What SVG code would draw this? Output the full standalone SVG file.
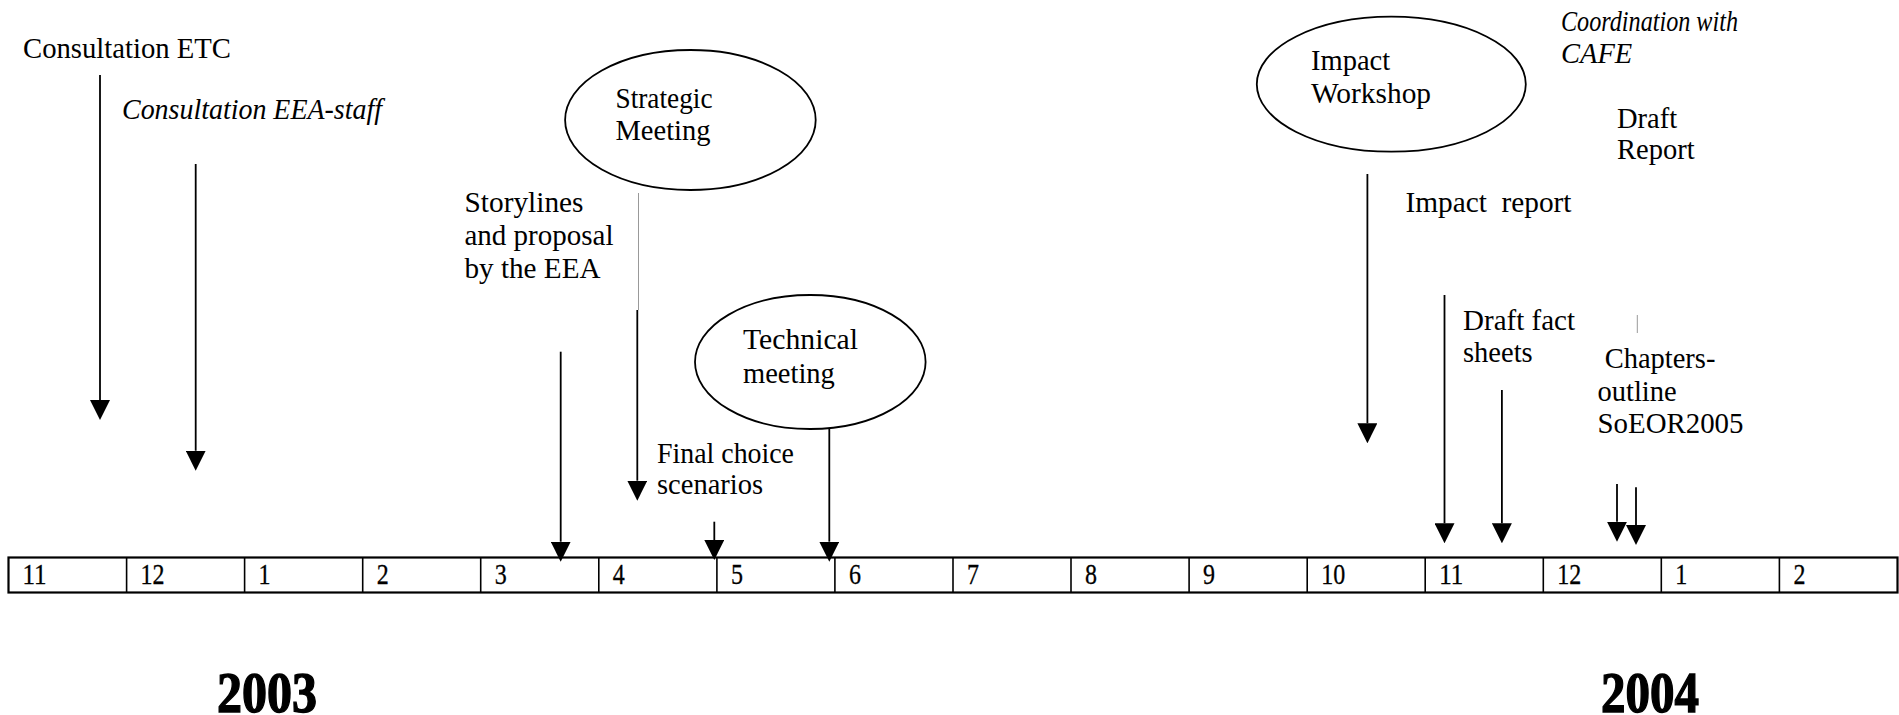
<svg xmlns="http://www.w3.org/2000/svg" width="1899" height="715" viewBox="0 0 1899 715">
<style>
.t{font-family:"Liberation Serif","Times New Roman",serif;font-size:28.5px;fill:#000}
.i{font-style:italic}
.m{font-family:"Liberation Serif","Times New Roman",serif;font-size:29px;fill:#000;stroke:#000;stroke-width:0.3}
.y{font-family:"Liberation Serif","Times New Roman",serif;font-size:58px;font-weight:bold;fill:#000;stroke:#000;stroke-width:1.4}
.el{fill:#fff;stroke:#000;stroke-width:1.8}
.ar{stroke:#000;stroke-width:1.8;fill:none;marker-end:url(#ah)}
.thin{stroke:#999;stroke-width:1;fill:none}
.box{fill:#fff;stroke:#000;stroke-width:2.2}
.div{stroke:#000;stroke-width:1.6}
</style>
<defs>
<marker id="ah" markerUnits="userSpaceOnUse" markerWidth="20" markerHeight="20" refX="0" refY="10" orient="auto">
<path d="M0,0 L20,10 L0,20 z" fill="#000"/>
</marker>
</defs>
<rect width="1899" height="715" fill="#fff"/>

<g id="timeline">
<rect class="box" x="8.5" y="557.5" width="1889" height="35"/>
<g class="div">
<line x1="126.6" y1="557.5" x2="126.6" y2="592.5"/>
<line x1="244.6" y1="557.5" x2="244.6" y2="592.5"/>
<line x1="362.7" y1="557.5" x2="362.7" y2="592.5"/>
<line x1="480.7" y1="557.5" x2="480.7" y2="592.5"/>
<line x1="598.8" y1="557.5" x2="598.8" y2="592.5"/>
<line x1="716.9" y1="557.5" x2="716.9" y2="592.5"/>
<line x1="834.9" y1="557.5" x2="834.9" y2="592.5"/>
<line x1="953" y1="557.5" x2="953" y2="592.5"/>
<line x1="1071" y1="557.5" x2="1071" y2="592.5"/>
<line x1="1189.1" y1="557.5" x2="1189.1" y2="592.5"/>
<line x1="1307.2" y1="557.5" x2="1307.2" y2="592.5"/>
<line x1="1425.2" y1="557.5" x2="1425.2" y2="592.5"/>
<line x1="1543.3" y1="557.5" x2="1543.3" y2="592.5"/>
<line x1="1661.3" y1="557.5" x2="1661.3" y2="592.5"/>
<line x1="1779.4" y1="557.5" x2="1779.4" y2="592.5"/>
</g>
<text class="m" x="22.5" y="584" textLength="24" lengthAdjust="spacingAndGlyphs">11</text>
<text class="m" x="140.6" y="584" textLength="24" lengthAdjust="spacingAndGlyphs">12</text>
<text class="m" x="258.6" y="584" textLength="12" lengthAdjust="spacingAndGlyphs">1</text>
<text class="m" x="376.7" y="584" textLength="12" lengthAdjust="spacingAndGlyphs">2</text>
<text class="m" x="494.7" y="584" textLength="12" lengthAdjust="spacingAndGlyphs">3</text>
<text class="m" x="612.8" y="584" textLength="12" lengthAdjust="spacingAndGlyphs">4</text>
<text class="m" x="730.9" y="584" textLength="12" lengthAdjust="spacingAndGlyphs">5</text>
<text class="m" x="848.9" y="584" textLength="12" lengthAdjust="spacingAndGlyphs">6</text>
<text class="m" x="967" y="584" textLength="12" lengthAdjust="spacingAndGlyphs">7</text>
<text class="m" x="1085" y="584" textLength="12" lengthAdjust="spacingAndGlyphs">8</text>
<text class="m" x="1203.1" y="584" textLength="12" lengthAdjust="spacingAndGlyphs">9</text>
<text class="m" x="1321.2" y="584" textLength="24" lengthAdjust="spacingAndGlyphs">10</text>
<text class="m" x="1439.2" y="584" textLength="24" lengthAdjust="spacingAndGlyphs">11</text>
<text class="m" x="1557.3" y="584" textLength="24" lengthAdjust="spacingAndGlyphs">12</text>
<text class="m" x="1675.3" y="584" textLength="12" lengthAdjust="spacingAndGlyphs">1</text>
<text class="m" x="1793.4" y="584" textLength="12" lengthAdjust="spacingAndGlyphs">2</text>
</g>

<g id="years">
<text class="y" x="217" y="712" textLength="100" lengthAdjust="spacingAndGlyphs">2003</text>
<text class="y" x="1601" y="712" textLength="98" lengthAdjust="spacingAndGlyphs">2004</text>
</g>

<g id="connectors">
<line class="ar" x1="100" y1="75" x2="100" y2="400"/>
<line class="ar" x1="195.7" y1="164" x2="195.7" y2="450.7"/>
<line class="ar" x1="560.7" y1="351.7" x2="560.7" y2="541.7"/>
<line class="thin" x1="638.5" y1="193" x2="638.5" y2="310"/>
<line class="ar" x1="637.3" y1="310" x2="637.3" y2="480.7"/>
<line class="ar" x1="714.3" y1="521.7" x2="714.3" y2="540"/>
<line class="ar" x1="829.3" y1="429" x2="829.3" y2="541.7"/>
<line class="ar" x1="1367.4" y1="174" x2="1367.4" y2="423.3"/>
<line class="ar" x1="1444.5" y1="295" x2="1444.5" y2="523.3"/>
<line class="ar" x1="1501.9" y1="390" x2="1501.9" y2="523.3"/>
<line class="ar" x1="1617" y1="484" x2="1617" y2="521.7"/>
<line class="ar" x1="1636" y1="487.3" x2="1636" y2="525"/>
<line class="thin" x1="1637.3" y1="315" x2="1637.3" y2="333" stroke="#bbb"/>
</g>

<g id="consultation-etc">
<text class="t" x="23" y="57.7" textLength="208" lengthAdjust="spacingAndGlyphs">Consultation ETC</text>
</g>
<g id="consultation-eea">
<text class="t i" x="122" y="119.3" textLength="260" lengthAdjust="spacingAndGlyphs">Consultation EEA-staff</text>
</g>
<g id="strategic-meeting">
<ellipse class="el" cx="690.4" cy="120" rx="125.3" ry="70"/>
<text class="t" x="615.5" y="107.7" textLength="97" lengthAdjust="spacingAndGlyphs">Strategic</text>
<text class="t" x="615.5" y="140">Meeting</text>
</g>
<g id="storylines">
<text class="t" x="464.5" y="211.7" textLength="119" lengthAdjust="spacingAndGlyphs">Storylines</text>
<text class="t" x="464.5" y="245" textLength="149" lengthAdjust="spacingAndGlyphs">and proposal</text>
<text class="t" x="464.5" y="278" textLength="136" lengthAdjust="spacingAndGlyphs">by the EEA</text>
</g>
<g id="technical-meeting">
<ellipse class="el" cx="810.3" cy="362" rx="115.3" ry="67"/>
<text class="t" x="743" y="349.3" textLength="115" lengthAdjust="spacingAndGlyphs">Technical</text>
<text class="t" x="743" y="382.7">meeting</text>
</g>
<g id="final-choice">
<text class="t" x="657" y="462.7" textLength="137" lengthAdjust="spacingAndGlyphs">Final choice</text>
<text class="t" x="657" y="494">scenarios</text>
</g>
<g id="impact-workshop">
<ellipse class="el" cx="1391.3" cy="84.2" rx="134.5" ry="67.5"/>
<text class="t" x="1311" y="70">Impact</text>
<text class="t" x="1311" y="102.7" textLength="120" lengthAdjust="spacingAndGlyphs">Workshop</text>
</g>
<g id="coordination-cafe">
<text class="t i" x="1561" y="30.7" textLength="177" lengthAdjust="spacingAndGlyphs">Coordination with</text>
<text class="t i" x="1561" y="63.3">CAFE</text>
</g>
<g id="draft-report">
<text class="t" x="1617" y="127.7">Draft</text>
<text class="t" x="1617" y="159">Report</text>
</g>
<g id="impact-report">
<text class="t" x="1405.5" y="212.3" xml:space="preserve" textLength="166" lengthAdjust="spacingAndGlyphs">Impact  report</text>
</g>
<g id="draft-fact-sheets">
<text class="t" x="1463" y="330" textLength="112" lengthAdjust="spacingAndGlyphs">Draft fact</text>
<text class="t" x="1463" y="361.7">sheets</text>
</g>
<g id="chapters-outline">
<text class="t" x="1597.5" y="367.5" xml:space="preserve"> Chapters-</text>
<text class="t" x="1597.5" y="400.7">outline</text>
<text class="t" x="1597.5" y="433.3" textLength="146" lengthAdjust="spacingAndGlyphs">SoEOR2005</text>
</g>
</svg>
